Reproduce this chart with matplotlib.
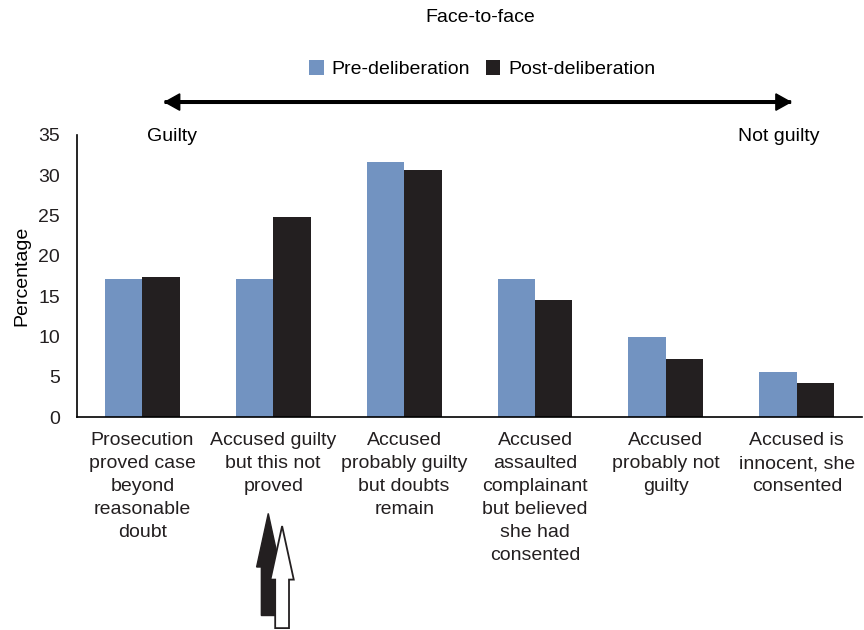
import numpy as np
import matplotlib.pyplot as plt
from matplotlib.patches import FancyArrow

plt.rcParams['font.family'] = ['Liberation Sans', 'DejaVu Sans']

categories = [
    "Prosecution\nproved case\nbeyond\nreasonable\ndoubt",
    "Accused guilty\nbut this not\nproved",
    "Accused\nprobably guilty\nbut doubts\nremain",
    "Accused\nassaulted\ncomplainant\nbut believed\nshe had\nconsented",
    "Accused\nprobably not\nguilty",
    "Accused is\ninnocent, she\nconsented",
]
pre_delib = [17.1, 17.1, 31.6, 17.1, 9.9, 5.6]
post_delib = [17.4, 24.8, 30.6, 14.5, 7.2, 4.2]

blue = '#7293c1'
dark = '#231f20'
fs = 14

fig = plt.figure(figsize=(8.64, 6.3), dpi=100)
ax = fig.add_axes([0.089, 0.338, 0.909, 0.448])

x = np.arange(len(categories))
w = 0.286
ax.bar(x - w / 2, pre_delib, w, color=blue, label='Pre-deliberation')
ax.bar(x + w / 2, post_delib, w, color=dark, label='Post-deliberation')

ax.set_xlim(-0.5, len(categories) - 0.5)
ax.set_ylim(0, 35)
ax.set_yticks(range(0, 36, 5))
ax.set_xticks(x)
ax.set_xticklabels(categories, fontsize=fs, linespacing=1.45)
ax.tick_params(axis='both', length=0, labelsize=fs, colors='#231f20')
ax.tick_params(axis='x', pad=11)
ax.tick_params(axis='y', pad=12)
ax.set_ylabel('Percentage', fontsize=fs, labelpad=6)
for s in ('top', 'right'):
    ax.spines[s].set_visible(False)
for s in ('left', 'bottom'):
    ax.spines[s].set_color('black')
    ax.spines[s].set_linewidth(1.2)

# title and legend above the plot
fig.text(0.556, 0.972, 'Face-to-face', ha='center', va='center', fontsize=fs)
fig.legend(loc='center', bbox_to_anchor=(0.558, 0.89), ncol=2, frameon=False,
           fontsize=fs, handlelength=0.75, handleheight=0.75, handletextpad=0.4,
           columnspacing=0.8)

# guilty <-> not guilty scale
fig.patches.append(FancyArrow(0.191, 0.838, 0.724, 0, width=0.004, head_width=0.026,
                              head_length=0.017, length_includes_head=True,
                              color='black', transform=fig.transFigure))
fig.patches.append(FancyArrow(0.915, 0.838, -0.724, 0, width=0.004, head_width=0.026,
                              head_length=0.017, length_includes_head=True,
                              color='black', transform=fig.transFigure))
fig.text(0.199, 0.784, 'Guilty', ha='center', va='center', fontsize=fs)
fig.text(0.901, 0.784, 'Not guilty', ha='center', va='center', fontsize=fs)

# arrows under the second category
fig.patches.append(FancyArrow(0.3105, 0.023, 0, 0.162, width=0.016, head_width=0.027,
                              head_length=0.085, length_includes_head=True,
                              facecolor=dark, edgecolor=dark, transform=fig.transFigure))
fig.patches.append(FancyArrow(0.3265, 0.003, 0, 0.162, width=0.016, head_width=0.027,
                              head_length=0.085, length_includes_head=True,
                              facecolor='white', edgecolor=dark, linewidth=1.3,
                              transform=fig.transFigure))

fig.savefig('out.png', dpi=100)
